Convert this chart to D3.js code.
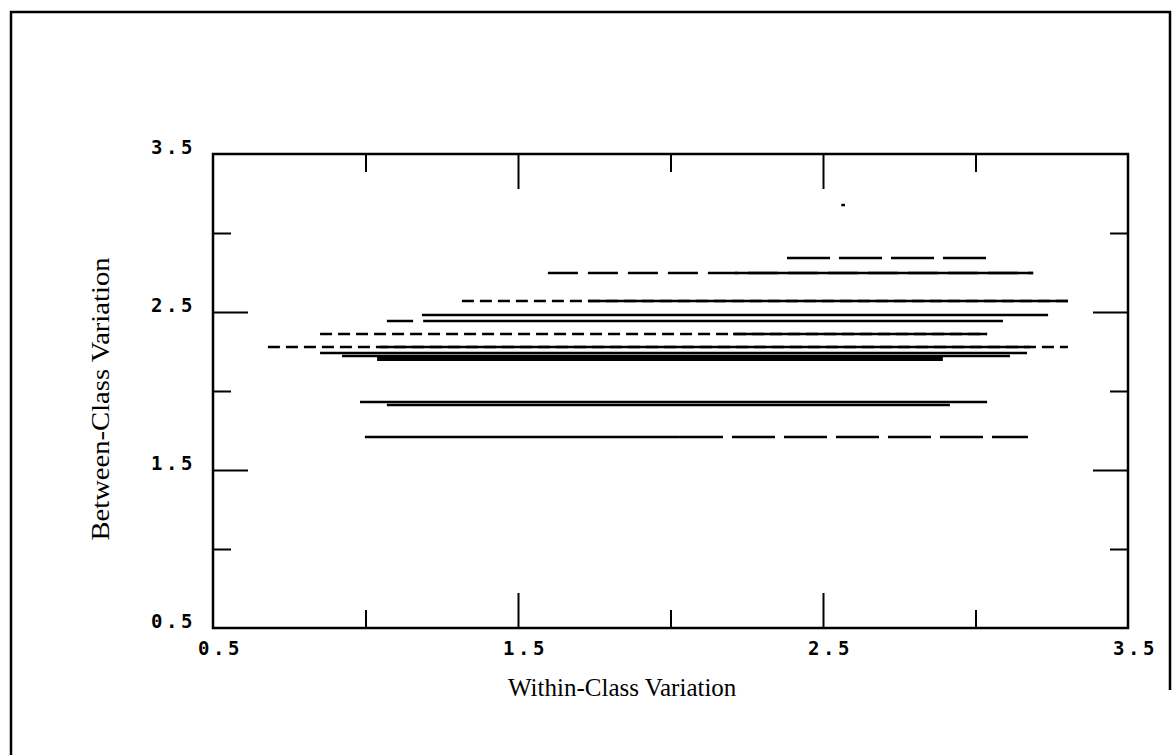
<!DOCTYPE html>
<html>
<head>
<meta charset="utf-8">
<script src="https://cdn.jsdelivr.net/npm/d3@7"></script>
<style>
  body { margin: 0; background: #fff; }
  svg { display: block; }
</style>
</head>
<body>
<div id="chart"></div>
<script>
// axis settings
const xDomain = [0.5, 3.5];
const yDomain = [0.5, 3.5];
const labelTicks = [0.5, 1.5, 2.5, 3.5];
const majorTicks = [1.5, 2.5];
const minorTicks = [1.0, 2.0, 3.0];

// horizontal segments
const segY     = [2.842, 2.747, 2.747, 2.570, 2.570, 2.481, 2.443, 2.443, 2.361, 2.361, 2.278, 2.278, 2.241, 2.222, 2.206, 1.930, 1.911, 1.709, 1.709, 3.177];
const segStart = [2.382, 1.598, 2.211, 1.316, 1.730, 1.185, 1.070, 1.189, 0.851, 2.205, 0.680, 1.048, 0.851, 0.923, 1.038, 0.982, 1.070, 0.998, 2.031, 2.560];
const segEnd   = [3.054, 3.189, 3.189, 3.303, 3.303, 3.238, 1.156, 3.090, 3.038, 3.038, 3.303, 3.179, 3.169, 3.113, 2.893, 3.038, 2.916, 2.031, 3.172, 2.572];
const segStyle = ["long", "medium", "solid", "short", "solid", "solid", "solid", "solid", "short", "solid", "short", "solid", "solid", "solid", "thick", "solid", "solid", "solid", "long", "solid"];

const dashes = { solid: null, thick: null, short: "12 6", medium: "30 10", long: "43 9" };

const W = 1176, H = 755;
const mLeft = 213, mRight = 1128, mTop = 154, mBottom = 628;

const svg = d3.select("#chart").append("svg")
    .attr("width", W)
    .attr("height", H);

// page border
svg.append("path")
    .attr("d", "M11,755 L11,12 L1170,12 L1170,690")
    .attr("fill", "none")
    .attr("stroke", "#000")
    .attr("stroke-width", 2.5);

let x = d3.scaleLinear().domain(xDomain).range([mLeft, mRight]);
let y = d3.scaleLinear().domain(yDomain).range([mBottom, mTop]);

// inward ticks on all four sides
function tickAxis(axis, vals, len) {
    return axis.tickValues(vals).tickSize(-len).tickFormat("");
}

let ticks = svg.append("g").attr("class", "ticks");
[[majorTicks, 35], [minorTicks, 18]].forEach(([vals, len]) => {
    ticks.append("g").attr("transform", "translate(0," + mBottom + ")").call(tickAxis(d3.axisBottom(x), vals, len));
    ticks.append("g").attr("transform", "translate(0," + mTop + ")").call(tickAxis(d3.axisTop(x), vals, len));
    ticks.append("g").attr("transform", "translate(" + mLeft + ",0)").call(tickAxis(d3.axisLeft(y), vals, len));
    ticks.append("g").attr("transform", "translate(" + mRight + ",0)").call(tickAxis(d3.axisRight(y), vals, len));
});
ticks.selectAll(".domain").remove();
ticks.selectAll("line").attr("stroke", "#000").attr("stroke-width", 2);

// tick labels
let xLab = svg.append("g")
    .attr("transform", "translate(0," + mBottom + ")")
    .call(d3.axisBottom(x).tickValues(labelTicks).tickSize(0).tickFormat(d3.format(".1f")));
xLab.select(".domain").remove();
xLab.selectAll("text")
    .attr("y", 27)
    .attr("dy", 0)
    .attr("dx", 7);

let yLab = svg.append("g")
    .attr("transform", "translate(" + mLeft + ",0)")
    .call(d3.axisLeft(y).tickValues(labelTicks).tickSize(0).tickFormat(d3.format(".1f")));
yLab.select(".domain").remove();
yLab.selectAll("text")
    .attr("text-anchor", "start")
    .attr("x", -62)
    .attr("dy", -1);

svg.selectAll(".tick text")
    .attr("fill", "#000")
    .style("font-family", "'DejaVu Sans Mono', monospace")
    .style("font-weight", "bold")
    .style("font-size", "19px")
    .style("letter-spacing", "3.5px");

// plot frame
svg.append("rect")
    .attr("x", mLeft)
    .attr("y", mTop)
    .attr("width", mRight - mLeft)
    .attr("height", mBottom - mTop)
    .attr("fill", "none")
    .attr("stroke", "#000")
    .attr("stroke-width", 2.5);

// data segments
svg.append("g").selectAll("line")
    .data(segY.map((v, i) => ({ y: v, x0: segStart[i], x1: segEnd[i], s: segStyle[i] })))
    .enter()
    .append("line")
    .attr("x1", d => x(d.x0))
    .attr("x2", d => x(d.x1))
    .attr("y1", d => y(d.y))
    .attr("y2", d => y(d.y))
    .attr("stroke", "#000")
    .attr("stroke-width", d => d.s == "thick" ? 5 : 2.5)
    .attr("stroke-dasharray", d => dashes[d.s]);

// axis titles
svg.append("text")
    .text("Within-Class Variation")
    .attr("x", 508)
    .attr("y", 696)
    .style("font-family", "'Liberation Serif', serif")
    .style("font-size", "25px");

svg.append("text")
    .text("Between-Class Variation")
    .attr("text-anchor", "middle")
    .attr("transform", "translate(109," + 399 + ") rotate(-90)")
    .attr("textLength", 283)
    .attr("lengthAdjust", "spacingAndGlyphs")
    .style("font-family", "'Liberation Serif', serif")
    .style("font-size", "26px");
</script>
</body>
</html>
